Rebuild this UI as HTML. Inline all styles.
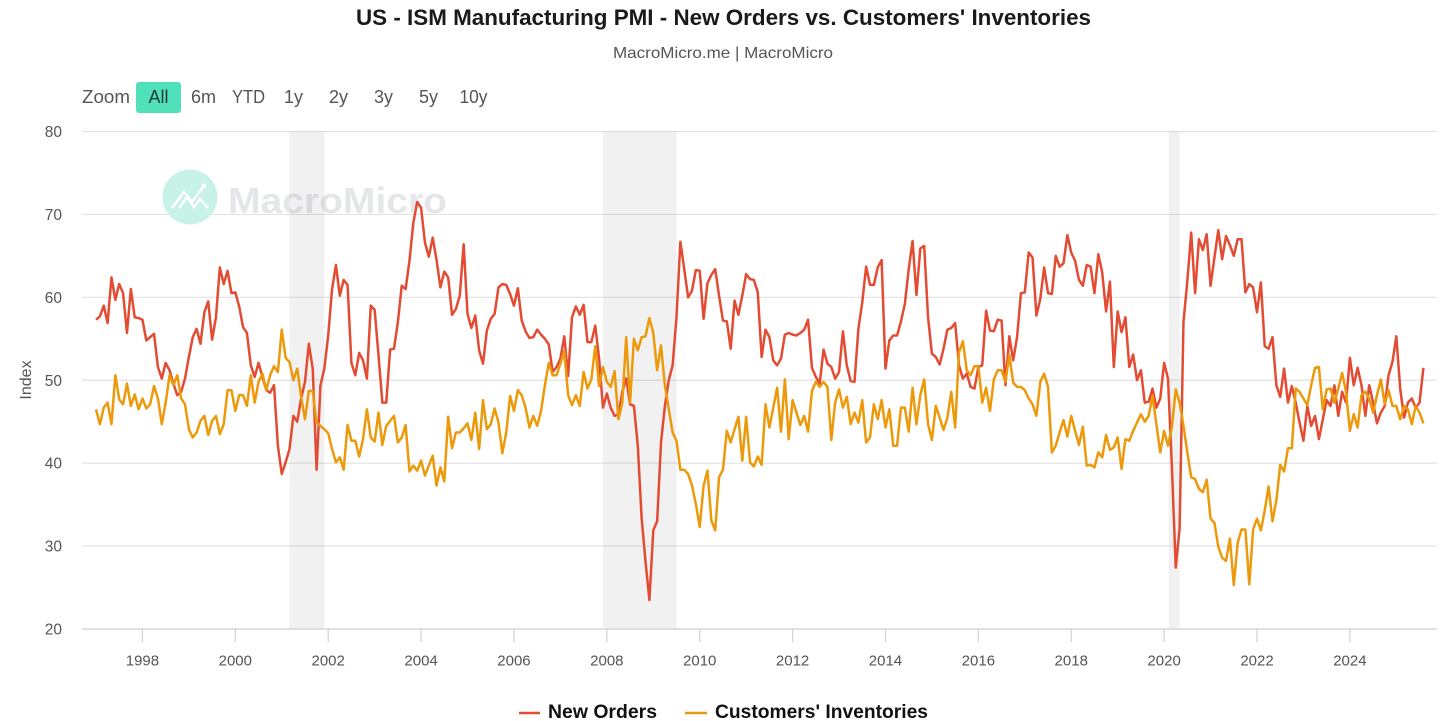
<!DOCTYPE html>
<html lang="en">
<head>
<meta charset="utf-8">
<title>US - ISM Manufacturing PMI - New Orders vs. Customers' Inventories</title>
<style>
html,body{margin:0;padding:0;background:#fff;width:1456px;height:721px;overflow:hidden}
svg{display:block;font-family:"Liberation Sans","DejaVu Sans",sans-serif}
</style>
</head>
<body>
<svg id="chart" width="1456" height="721" viewBox="0 0 1456 721" xmlns="http://www.w3.org/2000/svg">
  <rect x="0" y="0" width="1456" height="721" fill="#ffffff"/>
  <text x="723.5" y="25" text-anchor="middle" font-size="22.5" font-weight="700" fill="#1a1a1a" textLength="735" lengthAdjust="spacingAndGlyphs">US - ISM Manufacturing PMI - New Orders vs. Customers' Inventories</text>
  <text x="723" y="58" text-anchor="middle" font-size="16" fill="#555555" textLength="220" lengthAdjust="spacingAndGlyphs">MacroMicro.me | MacroMicro</text>

  <g font-size="18" fill="#555555">
    <text x="82" y="103" textLength="48" lengthAdjust="spacingAndGlyphs">Zoom</text>
    <rect x="136" y="82" width="45" height="31" rx="3" fill="#50e0ba"/>
    <text x="158.5" y="103" text-anchor="middle" fill="#1f3a33">All</text>
    <text x="203.5" y="103" text-anchor="middle">6m</text>
    <text x="248.5" y="103" text-anchor="middle" textLength="33" lengthAdjust="spacingAndGlyphs">YTD</text>
    <text x="293.5" y="103" text-anchor="middle">1y</text>
    <text x="338.5" y="103" text-anchor="middle">2y</text>
    <text x="383.5" y="103" text-anchor="middle">3y</text>
    <text x="428.5" y="103" text-anchor="middle">5y</text>
    <text x="473.5" y="103" text-anchor="middle" textLength="28" lengthAdjust="spacingAndGlyphs">10y</text>
  </g>

  <g id="grid"></g>

  <g>
    <circle cx="190" cy="197" r="27.5" fill="#c8f2e7"/>
    <polyline points="172,208 184,192 192,202 203,187" fill="none" stroke="#ffffff" stroke-width="2.4"/>
    <polyline points="179,208 187,197 194,207 200,199 208,208" fill="none" stroke="#ffffff" stroke-width="2.4"/>
    <circle cx="204" cy="186" r="2.4" fill="#ffffff"/>
    <text x="228" y="213" font-size="36" font-weight="700" fill="#e4e6e9" textLength="219" lengthAdjust="spacingAndGlyphs">MacroMicro</text>
  </g>

  <g id="bands"></g>
  <g id="xaxis"></g>
  <g id="yaxis"></g>
  <text transform="translate(31,380) rotate(-90)" text-anchor="middle" font-size="16" fill="#555555">Index</text>
  <g id="series"></g>

  <g font-size="19" font-weight="700" fill="#111111">
    <g>
      <line x1="519" y1="713" x2="540" y2="713" stroke="#e34c33" stroke-width="2.6"/>
      <text x="548" y="718" textLength="109" lengthAdjust="spacingAndGlyphs">New Orders</text>
    </g>
    <g>
      <line x1="685" y1="713" x2="707" y2="713" stroke="#ec9a0b" stroke-width="2.6"/>
      <text x="715" y="718" textLength="213" lengthAdjust="spacingAndGlyphs">Customers' Inventories</text>
    </g>
  </g>
</svg>
<script>
const startYear = 1997;
const yTicks = [20, 30, 40, 50, 60, 70, 80];
const xTickYears = [1998, 2000, 2002, 2004, 2006, 2008, 2010, 2012, 2014, 2016, 2018, 2020, 2022, 2024];
const recessionStartMonths = [50, 131, 277.2];
const recessionEndMonths = [59, 150, 280];
const newOrders = [
57.3,57.7,59,56.9,62.4,59.7,61.6,60.5,55.7,61,57.6,57.5,
57.3,54.8,55.2,55.6,51.6,50.2,52.1,51.2,49.6,48.2,48.6,50.2,
52.8,55.2,56.2,54.4,58.2,59.5,54.9,57.6,63.6,61.6,63.2,60.5,
60.6,58.9,56.4,55.7,51.8,50.4,52.1,50.4,48.8,48.5,49.4,42.1,
38.7,40.1,41.7,45.7,45,47.8,49.8,54.4,51.4,39.2,49.4,51.4,
55.4,61,63.9,60.2,62.1,61.5,52.1,50.6,53.3,52.4,50.2,59,
58.5,53,47.3,47.3,53.7,53.8,57,61.4,61,64.4,69,71.5,
70.8,66.6,64.9,67.2,64.5,61.2,63.1,62.4,57.9,58.6,60.2,66.4,
58,56.3,57.8,53.6,52,56,57.4,58,61.2,61.6,61.5,60.4,
59,61.1,57.2,55.9,55.1,55.2,56.1,55.5,55,54.3,51,51.6,
52.6,55.3,50.5,57.6,58.9,57.9,59.1,54.6,54.6,56.6,52.6,46.7,
48.4,46.7,45.7,45.9,48.6,50.2,47.1,46.9,42.1,33.3,28.1,23.5,
31.9,33,42.5,46.9,50,51.8,57.6,66.7,63.4,60,60.8,63.3,
63.2,57.4,61.7,62.7,63.4,60.2,57.2,57.1,53.8,59.6,57.9,60.2,
62.8,62.2,62.1,60.6,52.8,56.1,55.2,52.4,51.8,52.6,55.5,55.7,
55.5,55.4,55.7,56.1,57.3,51.5,50.4,49.6,53.7,52,51.6,50.2,
51,55.9,51.8,49.9,49.8,56.2,59.4,63.7,61.5,61.5,63.6,64.5,
51.4,54.8,55.4,55.4,57.1,59.2,63.4,66.8,60.3,65.9,66.2,57.6,
53.2,52.8,51.9,53.8,56.1,56.3,56.9,51.8,50.2,50.8,49.2,49,
51.6,51.8,58.4,56,55.9,57.3,57.2,49.4,55.3,52.4,55.2,60.5,
60.6,65.4,64.8,57.8,59.8,63.6,60.5,60.4,65,63.7,64.1,67.5,
65.4,64.4,62.1,61.4,63.9,63.7,60.5,65.2,63,58.3,61.9,51.6,
58.3,55.8,57.6,51.6,53.1,50,51.2,47.3,47.4,49,46.7,47.8,
52.1,50.2,39.7,27.4,32.1,57,62,67.8,60.5,67,65.7,67.6,
61.4,64.8,68.1,64.6,67.4,66.3,65,67,67,60.6,61.6,61.2,
58.2,61.8,54.1,53.8,55.2,49.4,48,51.4,47.3,49.3,47.3,44.9,
42.7,46.9,44.5,45.7,42.9,45.3,47.6,46.9,49.4,45.7,48.6,47.3,
52.7,49.4,51.5,49.4,45.7,49.4,47.3,44.8,46.1,46.9,50.6,52.2,
55.3,49,45.5,47.3,47.8,46.7,47.3,51.5];
const customersInventories = [
46.5,44.7,46.7,47.3,44.7,50.6,47.7,47.1,49.6,46.9,48.3,46.5,
47.8,46.6,47.1,49.3,47.8,44.7,47.3,50.6,49.4,50.6,47.8,47.1,
44.1,43.1,43.7,45.1,45.7,43.4,45.1,45.7,43.5,44.7,48.8,48.8,
46.3,48.2,48.2,46.9,50.6,47.3,49.8,50.8,48.8,50.6,51.7,51,
56.1,52.7,52.2,50,51.4,48,45.3,48.7,48.7,44.9,44.5,44.1,
43.6,41.7,40.1,40.7,39.2,44.6,42.7,42.7,40.8,42.9,46.5,43.1,
42.6,46.1,42.2,44.5,45.1,45.7,42.5,43.1,44.6,39,39.7,39.1,
40.3,38.5,39.7,40.9,37.3,39.5,37.8,45.6,41.8,43.7,43.7,44.2,
44.8,42.8,46.1,41.7,47.6,44.1,44.7,46.6,44.9,41.2,43.7,48.1,
46.3,48.8,48.2,46.7,44.3,45.7,44.5,46.3,49.4,52.1,50.6,50.6,
52,53.5,48.2,47,48.2,46.9,51,49,50.1,54.1,49.3,51.6,
49.8,49.2,51.1,45.3,47.3,55.2,47.3,55,53.6,55.2,55.3,57.5,
55.7,51.2,54.2,49.4,46.5,43.7,42.7,39.2,39.2,38.7,37.3,35.1,
32.3,37.3,39.1,33.1,31.9,38.3,39.2,43.9,42.5,44.1,45.6,40.3,
45.6,40.1,39.6,40.8,39.8,47.1,44.3,46.7,49.1,43.8,50.1,42.9,
47.6,46.1,44.6,45.7,43.8,48.7,49.8,49.2,49.8,49.2,42.8,47.3,
48.9,46.7,48,44.7,46.1,44.9,47.6,42.5,43.1,47.1,45.3,47.6,
44.3,46.5,42.1,42.1,46.7,46.7,43.8,49.1,44.7,48.2,50.1,44.7,
42.8,46.9,45.5,44,45.5,48.6,44.3,53.4,54.7,51.2,50.6,51.7,
51.7,47.3,49.1,46.3,50.1,51.2,51.2,49.8,53.1,49.7,49.2,49.2,
48.8,47.8,47.1,45.7,49.8,50.8,49.2,41.3,42.1,43.7,45.2,43.2,
45.7,43.9,42.2,44.4,39.7,39.8,39.5,41.3,40.7,43.4,41.6,41.9,
43.1,39.3,42.9,42.7,43.9,44.9,45.9,45,45.7,48.1,44.7,41.3,
43.9,42.1,44.3,48.9,47.3,44.5,41.3,38.3,38.1,36.9,36.5,38,
33.3,32.8,29.9,28.6,28.2,30.9,25.3,30.4,32,32,25.4,32,
33.3,31.9,34.3,37.2,33,35.5,39.8,39,41.8,41.8,49,48.6,
47.8,47,49.4,51.5,51.6,46.5,48.9,49,47.3,49,50.9,48.6,
43.9,45.9,44.3,48.2,48.6,47.8,46.1,48.2,50.1,47.1,48.8,46.9,
46.9,45.3,46.9,46.5,44.7,46.9,46.1,44.8];

const SVG_NS = 'http://www.w3.org/2000/svg';
const plotLeft = 82, plotRight = 1437, plotTop = 131.5, plotBottom = 629;
const xOrigin = 96, monthWidth = 3.87;
const yMin = 20, yMax = 80;

function xScale(month) { return xOrigin + monthWidth * month; }
function yScale(value) { return plotBottom - (value - yMin) / (yMax - yMin) * (plotBottom - plotTop); }
function make(tag, attrs, text) {
  const el = document.createElementNS(SVG_NS, tag);
  for (const k in attrs) el.setAttribute(k, attrs[k]);
  if (text !== undefined) el.textContent = text;
  return el;
}

const grid = document.getElementById('grid');
const yaxis = document.getElementById('yaxis');
yTicks.forEach(function (t) {
  const y = yScale(t);
  if (t !== yMin) {
    const g = make('line', {x1: plotLeft, x2: plotRight, y1: y, y2: y, stroke: '#e2e2e2', 'stroke-width': 1.2});
    
    
    grid.appendChild(g);
  }
  const lab = make('text', {x: 62, y: y + 5.5, 'text-anchor': 'end', 'font-size': 15.5, fill: '#555555'}, String(t));
  
  
  yaxis.appendChild(lab);
});

const bands = document.getElementById('bands');
recessionStartMonths.forEach(function (m, i) {
  const x0 = xScale(m), x1 = xScale(recessionEndMonths[i]);
  const b = make('rect', {x: x0, y: plotTop, width: x1 - x0, height: plotBottom - plotTop, fill: 'rgba(120,120,130,0.10)'});
  
  
  bands.appendChild(b);
});

const xaxis = document.getElementById('xaxis');
const axisLine = make('line', {x1: plotLeft, x2: plotRight, y1: plotBottom, y2: plotBottom, stroke: '#cfcfcf', 'stroke-width': 1.3});


xaxis.appendChild(axisLine);
xTickYears.forEach(function (yr) {
  const x = xScale((yr - startYear) * 12);
  const tick = make('line', {x1: x, x2: x, y1: plotBottom, y2: plotBottom + 13, stroke: '#d2d2d2', 'stroke-width': 1.2});
  
  
  xaxis.appendChild(tick);
  const lab = make('text', {x: x, y: 665.5, 'text-anchor': 'middle', 'font-size': 15, fill: '#555555'}, String(yr));
  
  
  xaxis.appendChild(lab);
});

function linePoints(values) {
  return values.map(function (v, i) { return xScale(i).toFixed(2) + ',' + yScale(v).toFixed(2); }).join(' ');
}
const seriesGroup = document.getElementById('series');
const redLine = make('polyline', {points: linePoints(newOrders), fill: 'none', stroke: '#e34c33', 'stroke-width': 2.5, 'stroke-linejoin': 'round'});


seriesGroup.appendChild(redLine);
const orangeLine = make('polyline', {points: linePoints(customersInventories), fill: 'none', stroke: '#ec9a0b', 'stroke-width': 2.5, 'stroke-linejoin': 'round'});


seriesGroup.appendChild(orangeLine);
</script>
</body>
</html>
